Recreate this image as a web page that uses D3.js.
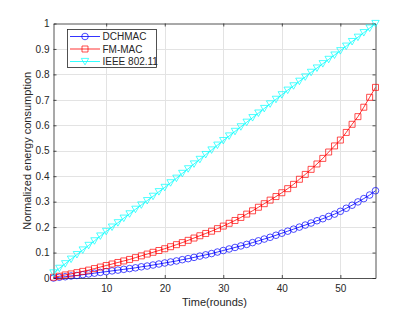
<!DOCTYPE html>
<html>
<head>
<meta charset="utf-8">
<script src="https://cdn.jsdelivr.net/npm/d3@7"></script>
<style>
  body { margin: 0; background: #fff; }
  svg { display: block; font-family: "Liberation Sans", Arial, sans-serif; }
</style>
</head>
<body>
<div id="chart"></div>
<script>
// Chart data
var rounds = d3.range(1, 57); // 1..56

var dchmac = [0.000, 0.003, 0.005, 0.008, 0.010, 0.013, 0.016, 0.019, 0.022, 0.025,
  0.028, 0.031, 0.034, 0.037, 0.040, 0.044, 0.047, 0.051, 0.055, 0.059,
  0.063, 0.067, 0.072, 0.076, 0.081, 0.086, 0.091, 0.096, 0.102, 0.108,
  0.114, 0.120, 0.126, 0.132, 0.139, 0.146, 0.153, 0.160, 0.168, 0.176,
  0.184, 0.192, 0.200, 0.208, 0.216, 0.225, 0.233, 0.242, 0.251, 0.262,
  0.274, 0.286, 0.299, 0.312, 0.326, 0.343];

var fmmac = [0.003, 0.007, 0.012, 0.016, 0.021, 0.026, 0.031, 0.037, 0.043, 0.049,
  0.055, 0.061, 0.067, 0.073, 0.080, 0.087, 0.094, 0.101, 0.108, 0.115,
  0.123, 0.131, 0.139, 0.148, 0.157, 0.166, 0.175, 0.184, 0.194, 0.204,
  0.215, 0.226, 0.238, 0.251, 0.264, 0.278, 0.292, 0.306, 0.320, 0.335,
  0.351, 0.368, 0.388, 0.407, 0.427, 0.448, 0.470, 0.495, 0.519, 0.542,
  0.572, 0.604, 0.634, 0.671, 0.710, 0.749];

var ieee = [0.020, 0.038, 0.056, 0.074, 0.092, 0.110, 0.128, 0.146, 0.165, 0.183,
  0.200, 0.217, 0.235, 0.252, 0.270, 0.287, 0.304, 0.321, 0.339, 0.356,
  0.374, 0.392, 0.411, 0.429, 0.448, 0.466, 0.485, 0.503, 0.522, 0.540,
  0.558, 0.576, 0.594, 0.612, 0.630, 0.648, 0.666, 0.684, 0.702, 0.720,
  0.738, 0.755, 0.773, 0.790, 0.808, 0.825, 0.842, 0.859, 0.876, 0.893,
  0.911, 0.929, 0.946, 0.964, 0.982, 1.000];

var seriesNames = ["DCHMAC", "FM-MAC", "IEEE 802.11"];
var xTicks = [10, 20, 30, 40, 50];
var yTicks = [0, 0.1, 0.2, 0.3, 0.4, 0.5, 0.6, 0.7, 0.8, 0.9, 1];

var width = 415, height = 312;
var plotL = 53.5, plotR = 375.5, plotT = 23.5, plotB = 278;
var axisColor = "#262626";

var svg = d3.select("#chart").append("svg")
  .attr("width", width)
  .attr("height", height);

svg.append("rect").attr("width", width).attr("height", height).attr("fill", "#fff");

var x = d3.scaleLinear().domain([1, 56]).range([plotL, plotR]);
var y = d3.scaleLinear().domain([0, 1]).range([plotB, plotT]);

// grid
var grid = svg.append("g").attr("stroke", "#e3e3e3").attr("stroke-width", 1);
grid.selectAll(".gx").data(xTicks).enter().append("line")
  .attr("x1", function(d) { return Math.round(x(d)) + 0.5; })
  .attr("x2", function(d) { return Math.round(x(d)) + 0.5; })
  .attr("y1", plotT).attr("y2", plotB);
grid.selectAll(".gy").data(yTicks.slice(1, -1)).enter().append("line")
  .attr("y1", function(d) { return Math.round(y(d)) + 0.5; })
  .attr("y2", function(d) { return Math.round(y(d)) + 0.5; })
  .attr("x1", plotL).attr("x2", plotR);

// axes, ticks pointing in (matlab style)
function styleAxis(g) {
  g.select(".domain").attr("stroke", axisColor).attr("stroke-width", 0.8);
  g.selectAll(".tick line").attr("stroke", axisColor).attr("stroke-width", 0.8);
  g.selectAll("text").attr("fill", axisColor).style("font-size", "10px")
    .style("font-family", "'Liberation Sans', Arial, sans-serif");
}

svg.append("g")
  .attr("transform", "translate(0," + plotB + ")")
  .call(d3.axisBottom(x).tickValues(xTicks).tickSize(-3).tickSizeOuter(0).tickPadding(7))
  .call(styleAxis);

svg.append("g")
  .attr("transform", "translate(" + plotL + ",0)")
  .call(d3.axisLeft(y).tickValues(yTicks).tickFormat(d3.format("~g")).tickSize(-3).tickSizeOuter(0).tickPadding(4))
  .call(styleAxis);

svg.append("g")
  .attr("transform", "translate(0," + plotT + ")")
  .call(d3.axisTop(x).tickValues(xTicks).tickSize(-3).tickSizeOuter(0).tickFormat(""))
  .call(styleAxis);

svg.append("g")
  .attr("transform", "translate(" + plotR + ",0)")
  .call(d3.axisRight(y).tickValues(yTicks).tickSize(-3).tickSizeOuter(0).tickFormat(""))
  .call(styleAxis);

// axis labels
svg.append("text")
  .attr("x", (plotL + plotR) / 2)
  .attr("y", 305.5)
  .attr("text-anchor", "middle")
  .attr("fill", axisColor)
  .style("font-size", "11px")
  .text("Time(rounds)");

svg.append("text")
  .attr("transform", "translate(31," + (plotT + plotB) / 2 + ") rotate(-90)")
  .attr("text-anchor", "middle")
  .attr("fill", axisColor)
  .style("font-size", "11px")
  .text("Normalized energy consumption");

// marker shapes
function markerPath(type) {
  if (type === "circle") return d3.symbol().type(d3.symbolCircle).size(Math.PI * 3.3 * 3.3)();
  if (type === "square") return "M-3,-3H3V3H-3Z";
  return "M-3.7,-3.1L3.7,-3.1L0,3.4Z";
}

var series = [
  { name: seriesNames[0], values: dchmac, color: "#0000ff", marker: "circle" },
  { name: seriesNames[1], values: fmmac, color: "#ff0000", marker: "square" },
  { name: seriesNames[2], values: ieee, color: "#00ffff", marker: "triangle" }
];

var line = d3.line()
  .x(function(d, i) { return x(rounds[i]); })
  .y(function(d) { return y(d); });

series.forEach(function(s) {
  var g = svg.append("g");
  g.append("path")
    .attr("d", line(s.values))
    .attr("fill", "none")
    .attr("stroke", s.color)
    .attr("stroke-width", 0.8);
  g.selectAll("path.mk")
    .data(s.values)
    .enter()
    .append("path")
    .attr("class", "mk")
    .attr("d", markerPath(s.marker))
    .attr("transform", function(d, i) { return "translate(" + x(rounds[i]) + "," + y(d) + ")"; })
    .attr("fill", "none")
    .attr("stroke", s.color)
    .attr("stroke-width", 0.7);
});

// legend
var legend = svg.append("g");
legend.append("rect")
  .attr("x", 67.5).attr("y", 29.5)
  .attr("width", 89).attr("height", 38)
  .attr("fill", "#fff")
  .attr("stroke", axisColor)
  .attr("stroke-width", 0.8);

series.forEach(function(s, i) {
  var ly = 36.5 + i * 12.5;
  legend.append("line")
    .attr("x1", 70).attr("x2", 100)
    .attr("y1", ly).attr("y2", ly)
    .attr("stroke", s.color)
    .attr("stroke-width", 0.8);
  legend.append("path")
    .attr("d", markerPath(s.marker))
    .attr("transform", "translate(85," + ly + ")")
    .attr("fill", "none")
    .attr("stroke", s.color)
    .attr("stroke-width", 0.7);
  legend.append("text")
    .attr("x", 102.5)
    .attr("y", ly + 3.6)
    .attr("fill", axisColor)
    .style("font-size", "10px")
    .text(s.name);
});
</script>
</body>
</html>
